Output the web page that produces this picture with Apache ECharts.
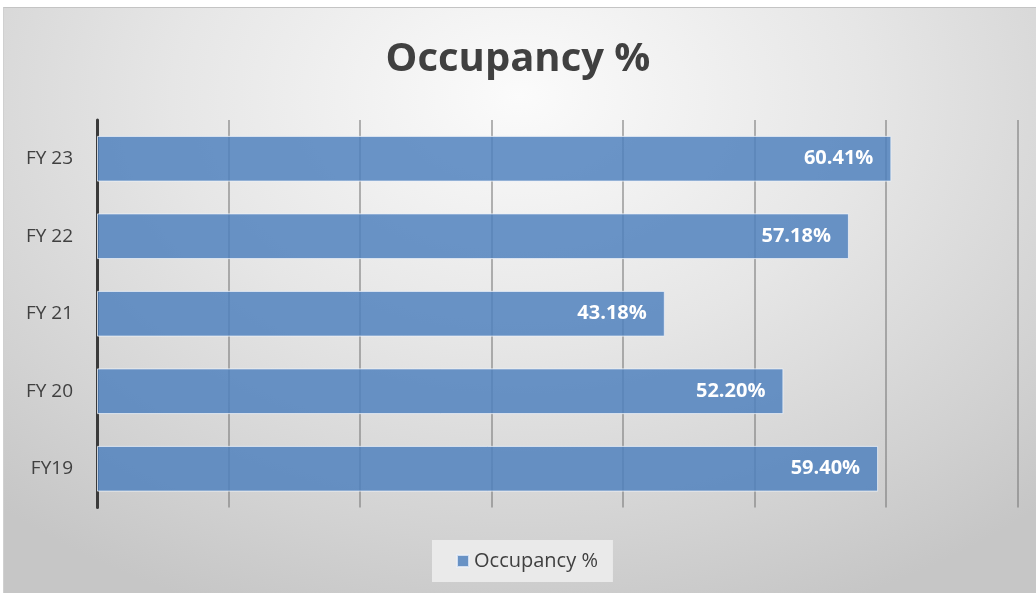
<!DOCTYPE html>
<html>
<head>
<meta charset="utf-8">
<script src="https://cdn.jsdelivr.net/npm/echarts@6/dist/echarts.min.js"></script>
<style>
html,body{margin:0;padding:0;background:#fff;width:1036px;height:593px;overflow:hidden;}
#bg{position:absolute;left:3px;top:7px;width:1033px;height:586px;
background:radial-gradient(ellipse 75% 95% at 50% 15%, #fbfbfb 0%, #e6e6e6 45%, #d2d2d2 80%, #c6c6c6 100%);
border-top:1px solid #c4c4c4;border-left:1px solid #d0d0d0;box-sizing:border-box;}
#main{position:absolute;left:0;top:0;width:1036px;height:593px;}
</style>
</head>
<body>
<div id="bg"></div>
<div id="main"></div>
<script>
const categories = ['FY19', 'FY 20', 'FY 21', 'FY 22', 'FY 23'];
const occupancy = [59.40, 52.20, 43.18, 57.18, 60.41];
const seriesName = 'Occupancy %';

const chart = echarts.init(document.getElementById('main'), null, {renderer: 'canvas'});
chart.setOption({
  backgroundColor: 'transparent',
  animation: false,
  title: {
    text: 'Occupancy %',
    left: 'center',
    top: 35,
    textStyle: {fontFamily: 'Open Sans', fontWeight: 'bold', fontSize: 40, color: '#404040'}
  },
  legend: {
    bottom: 11,
    left: 432,
    data: [seriesName],
    icon: 'rect',
    itemWidth: 12,
    itemHeight: 12,
    itemGap: 8,
    padding: [11, 15, 11, 24],
    backgroundColor: 'rgba(238,238,238,0.85)',
    textStyle: {fontFamily: 'Open Sans', fontSize: 20, color: '#404040'}
  },
  grid: {left: 97, right: 18.5, top: 120, bottom: 85.5, containLabel: false},
  xAxis: {
    type: 'value',
    min: 0,
    max: 70,
    interval: 10,
    axisLabel: {show: false},
    axisTick: {show: false},
    axisLine: {show: false},
    splitLine: {show: true, lineStyle: {color: 'rgba(120,120,120,0.55)', width: 2}}
  },
  yAxis: {
    type: 'category',
    data: categories,
    axisTick: {show: false},
    axisLine: {show: true, lineStyle: {color: '#3a3a3a', width: 3}},
    axisLabel: {fontFamily: 'Open Sans', fontSize: 19, color: '#404040', margin: 24}
  },
  series: [{
    name: seriesName,
    type: 'bar',
    data: occupancy,
    barCategoryGap: '41%',
    z: 1,
    itemStyle: {color: 'rgba(79,129,189,0.84)', borderColor: 'rgba(235,240,248,0.8)', borderWidth: 1},
    label: {
      show: true,
      position: 'insideRight',
      distance: 18,
      formatter: p => p.value.toFixed(2) + '%',
      fontFamily: 'Open Sans',
      fontWeight: 'bold',
      fontSize: 20,
      color: '#ffffff'
    }
  }]
});
</script>
</body>
</html>
